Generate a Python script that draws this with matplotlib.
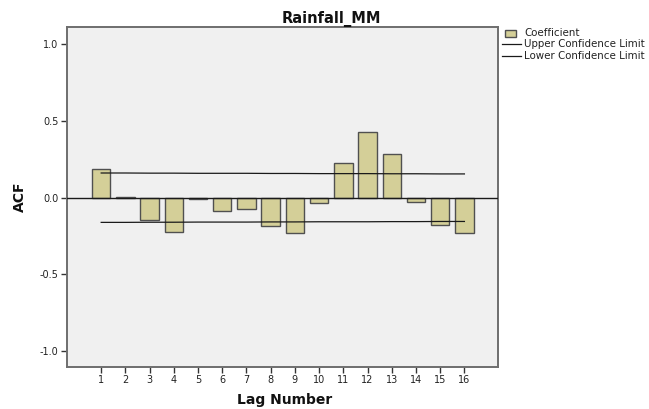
import matplotlib
matplotlib.use("Agg")
import matplotlib.pyplot as plt
from matplotlib.patches import Rectangle
from matplotlib.lines import Line2D

# Autocorrelation function of monthly rainfall
lags = [1, 2, 3, 4, 5, 6, 7, 8, 9, 10, 11, 12, 13, 14, 15, 16]
acf = [0.185, 0.005, -0.143, -0.226, -0.011, -0.089, -0.076, -0.187,
       -0.232, -0.033, 0.228, 0.427, 0.283, -0.030, -0.178, -0.230]
upper_conf = [0.161, 0.161, 0.160, 0.160, 0.159, 0.159, 0.159, 0.158,
              0.158, 0.157, 0.157, 0.157, 0.156, 0.156, 0.155, 0.155]
lower_conf = [-0.161, -0.161, -0.160, -0.160, -0.159, -0.159, -0.159, -0.158,
              -0.158, -0.157, -0.157, -0.157, -0.156, -0.156, -0.155, -0.155]
y_ticks = [-1.0, -0.5, 0.0, 0.5, 1.0]
y_tick_labels = ["-1.0", "-0.5", "0.0", "0.5", "1.0"]
legend_labels = ["Coefficient", "Upper Confidence Limit", "Lower Confidence Limit"]

W, H = 649, 409
BAR_FILL = "#d4cf98"
BAR_EDGE = "#505050"
FRAME = "#6e6e6e"

plt.rcParams["font.family"] = ["DejaVu Sans"]

fig = plt.figure(figsize=(W / 100, H / 100), dpi=100)
ax = fig.add_axes([67.3 / W, 1 - 367.3 / H, (498.3 - 67.3) / W, (367.3 - 26.7) / H])
ax.set_facecolor("#f0f0f0")

ax.bar(lags, acf, width=0.76, color=BAR_FILL, edgecolor=BAR_EDGE, linewidth=1.0, zorder=2)
ax.axhline(0, color="#1a1a1a", linewidth=1.0, zorder=3)
ax.plot(lags, upper_conf, color="#1a1a1a", linewidth=0.9, zorder=4)
ax.plot(lags, lower_conf, color="#1a1a1a", linewidth=0.9, zorder=4)

ax.set_xlim(-0.4, 17.4)
ax.set_ylim(-1.106, 1.115)
ax.set_xticks(lags)
ax.set_xticklabels([str(l) for l in lags])
ax.set_yticks(y_ticks)
ax.set_yticklabels(y_tick_labels)
ax.tick_params(axis="both", direction="out", length=4.3, width=1.0, color="#333333",
               labelsize=7, labelcolor="#222222")
ax.tick_params(axis="x", pad=1.5)
ax.tick_params(axis="y", pad=2)
for sp in ax.spines.values():
    sp.set_color(FRAME)
    sp.set_linewidth(1.4)

# Titles and axis labels
fig.text(331 / W, 1 - 23.3 / H, "Rainfall_MM", ha="center", va="baseline",
         fontsize=10.5, fontweight="bold", color="#111111")
fig.text(285 / W, 5 / H, "Lag Number", ha="center", va="baseline",
         fontsize=10, fontweight="bold", color="#111111")
fig.text(20 / W, 1 - 197 / H, "ACF", ha="center", va="center", rotation=90,
         fontsize=10, fontweight="bold", color="#111111")

# Legend
fig.add_artist(Rectangle((505 / W, 1 - 36.7 / H), 11 / W, 7 / H,
                         facecolor=BAR_FILL, edgecolor=BAR_EDGE, linewidth=1.0,
                         transform=fig.transFigure))
for yy in (44.2, 55.8):
    fig.add_artist(Line2D([502 / W, 521 / W], [1 - yy / H, 1 - yy / H],
                          color="#1a1a1a", linewidth=0.9, transform=fig.transFigure))
for label, yy in zip(legend_labels, (33.3, 44.2, 55.8)):
    fig.text(524 / W, 1 - yy / H, label, ha="left", va="center",
             fontsize=7.4, color="#222222")

fig.savefig("out.png", dpi=100)
